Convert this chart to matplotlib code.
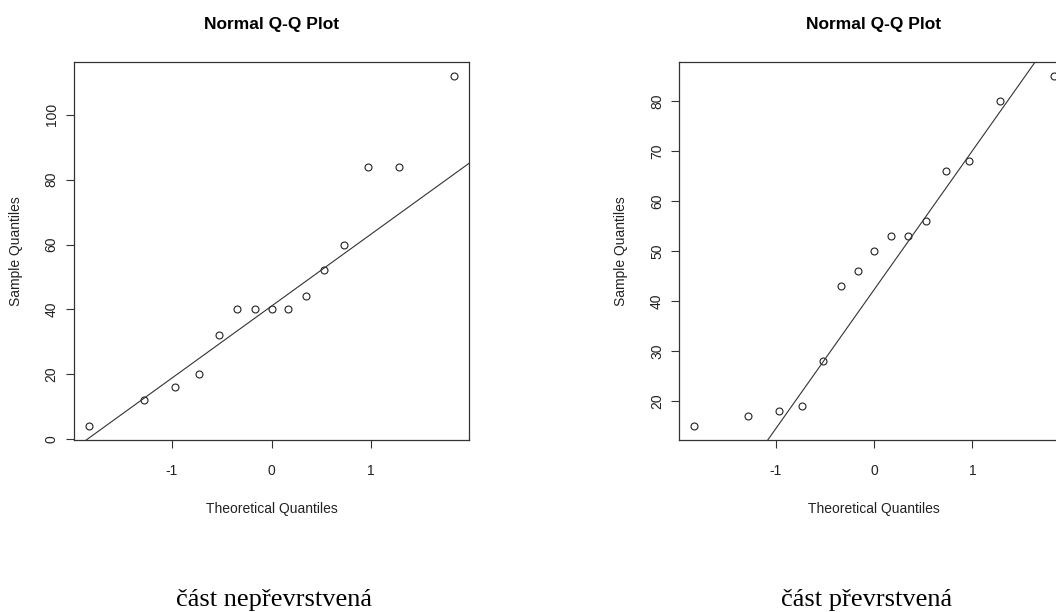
import numpy as np
import matplotlib.pyplot as plt

# theoretical normal quantiles for n = 15 points
theoretical = [-1.834, -1.282, -0.967, -0.728, -0.524, -0.341, -0.168, 0.0,
               0.168, 0.341, 0.524, 0.728, 0.967, 1.282, 1.834]

# sorted sample values
sample_left = [4, 12, 16, 20, 32, 40, 40, 40, 40, 44, 52, 60, 84, 84, 112]
sample_right = [15, 17, 18, 19, 28, 43, 46, 50, 53, 53, 56, 66, 68, 80, 85]

xticks = [-1, 0, 1]
yticks_left = [0, 20, 40, 60, 80, 100]
yticks_right = [20, 30, 40, 50, 60, 70, 80]

captions = ['část nepřevrstvená', 'část převrstvená']

plt.rcParams['font.family'] = ['Liberation Sans', 'DejaVu Sans']

W, H = 1056, 612
fig = plt.figure(figsize=(W / 100, H / 100), dpi=100)


def r_lim(vals):
    # R pads the data range by 4% on each side
    lo, hi = min(vals), max(vals)
    pad = 0.04 * (hi - lo)
    return lo - pad, hi + pad


def qq_panel(rect, sample, yticks, caption, cap_x):
    ax = fig.add_axes(rect)
    ax.plot(theoretical, sample, 'o', mfc='none', mec='#222222',
            ms=5, mew=0.8)

    # qqline through the first and third quartiles
    q1, q3 = np.percentile(sample, [25, 75])
    z = 0.6745
    slope = (q3 - q1) / (2 * z)
    ax.axline((0, q1 + z * slope), slope=slope, color='#333333', lw=0.8)

    ax.set_xlim(r_lim(theoretical))
    ax.set_ylim(r_lim(sample))
    ax.set_xticks(xticks)
    ax.set_yticks(yticks)
    ax.set_xticklabels([str(t) for t in xticks])
    ax.set_yticklabels([str(t) for t in yticks], rotation=90, va='center')
    ax.tick_params(length=6, width=0.8, color='#333333', labelsize=10,
                   labelcolor='#222222')
    ax.tick_params(axis='x', pad=11.5)
    ax.tick_params(axis='y', pad=5)
    for s in ax.spines.values():
        s.set_color('#333333')
        s.set_linewidth(0.9)

    ax.set_xlabel('Theoretical Quantiles', fontsize=10, labelpad=17, color='#222222')
    ax.set_ylabel('Sample Quantiles', fontsize=10, labelpad=15.5, color='#222222')

    xl = ax.get_xlim()
    cx = rect[0] + (0 - xl[0]) / (xl[1] - xl[0]) * rect[2]
    fig.text(cx, 1 - 24 / H, 'Normal Q-Q Plot', ha='center', va='center',
             fontsize=12.5, fontweight='bold')
    fig.text(cap_x / W, 1 - 600 / H, caption, ha='center', va='center',
             fontsize=19, family='Liberation Serif')
    return ax


print("Drawing Q-Q panels...")
qq_panel([74 / W, 1 - 440 / H, 395 / W, 378 / H], sample_left, yticks_left,
         captions[0], 274)
qq_panel([679.3 / W, 1 - 440 / H, 389.5 / W, 378 / H], sample_right, yticks_right,
         captions[1], 867)

fig.savefig('out.png', dpi=100)
print("Saved out.png")
